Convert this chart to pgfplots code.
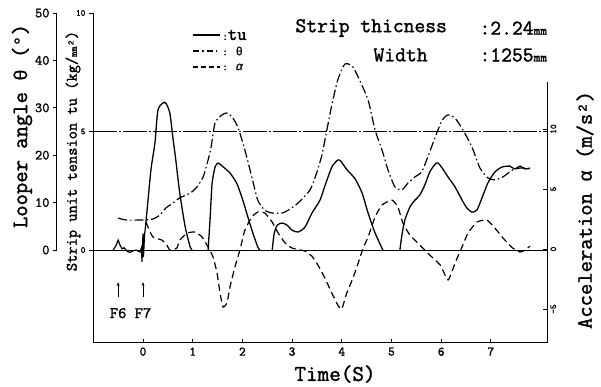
\documentclass[border=0pt]{standalone}
\usepackage{pgfplots}
\pgfplotsset{compat=1.18}
\usepackage{fontspec}
\setmainfont{Latin Modern Mono}[FakeBold=1.6]
\newfontfamily\gr{Liberation Mono}[FakeBold=0.8]
\usetikzlibrary{arrows.meta}
\newcommand\fs[1]{\fontsize{#1}{#1}\selectfont}
\pgfplotsset{
  common/.style={scale only axis, at={(0,0)}, anchor=south west, width=454pt,
    xmin=-1.006, xmax=8.13},
  tucurve/.style={black, line width=1.3pt, smooth, tension=0.4},
}
\begin{document}
\begin{tikzpicture}
\path[use as bounding box] (-93pt,-44pt) rectangle (508pt,343pt);

% ---------- theta data (hidden axes) ----------
\begin{axis}[common, height=330pt, ymin=-19.62, ymax=50, hide x axis, hide y axis]
\addplot[black, line width=1.2pt, smooth, tension=0.4,
  dash pattern=on 9pt off 3pt on 1.5pt off 3pt] coordinates {
(-0.50,6.75) (-0.34,6.33) (0,6.33) (0.20,6.54) (0.34,7.38) (0.46,8.86) (0.60,9.9)
(0.74,11.0) (0.95,12.0) (1.07,13.1) (1.21,15.4) (1.31,19.0) (1.37,21.7) (1.45,26.8)
(1.59,28.5) (1.69,28.9) (1.79,28.1) (1.91,25.9) (2.05,21.1) (2.19,15.4) (2.31,10.5)
(2.45,8.4) (2.60,7.8) (2.80,7.8) (2.92,8.4) (3.12,9.9) (3.36,12.66) (3.48,15.8)
(3.60,20.0) (3.70,25.3) (3.80,30.6) (3.92,35.9) (4.06,39.2) (4.21,38.8) (4.33,36.5)
(4.53,31.6) (4.67,25.3) (4.81,21.1) (4.93,16.9) (5.07,13.3) (5.21,12.7) (5.33,14.1)
(5.47,15.4) (5.61,16.5) (5.73,19.6) (5.88,23.8) (6.02,27.4) (6.14,28.5) (6.28,27.8)
(6.44,25.3) (6.62,21.7) (6.78,17.3) (6.94,15.2) (7.08,14.8) (7.24,15.4) (7.44,16.9)
(7.59,17.3) (7.79,17.1)};
\end{axis}

% ---------- theta scale ----------
\begin{axis}[scale only axis, at={(-36pt,93pt)}, anchor=south west, width=20pt, height=237pt,
  xmin=0, xmax=1, ymin=0, ymax=50, hide x axis, axis y line*=left,
  axis line style={-, line width=1pt}, ytick={0,10,20,30,40,50},
  yticklabels={0,10,20,30,40,50}, major tick length=4pt,
  tick style={black, line width=0.8pt}, ytick align=outside,
  yticklabel style={font=\fs{14}}]
\end{axis}

% ---------- alpha axis (right) ----------
\begin{axis}[common, height=261pt, ymin=-7.83, ymax=13.92, hide x axis,
  axis y line*=right, axis line style={-, line width=1pt},
  ytick={-5,0,5,10}, yticklabels={-5,0,5,10}, major tick length=4pt,
  tick style={black, line width=0.8pt}, ytick align=inside,
  yticklabel style={font=\fs{9}, rotate=90, anchor=north}]
\addplot[black, line width=1.2pt, smooth, tension=0.3, dash pattern=on 7pt off 4pt] coordinates {
(0.06,2.25) (0.10,1.83) (0.20,1.0) (0.38,0.75) (0.48,0.33) (0.54,-0.08) (0.68,0.08)
(0.74,0.75) (0.89,1.33) (1.05,1.42) (1.19,1.0) (1.31,0.17) (1.41,-0.67) (1.49,-2.0)
(1.55,-3.67) (1.61,-4.83) (1.69,-4.5) (1.75,-3.17) (1.85,-1.5) (1.95,-0.08) (2.05,1.58)
(2.19,2.67) (2.31,3.08) (2.45,3.0) (2.60,2.25) (2.72,1.33) (2.86,0.5) (3.0,0.08)
(3.26,-0.17) (3.40,-0.6) (3.52,-1.33) (3.66,-2.42) (3.80,-3.67) (3.92,-4.67) (4.00,-5.0)
(4.10,-3.67) (4.21,-2.58) (4.33,-1.17) (4.43,0.08) (4.53,1.0) (4.67,2.67) (4.81,3.67)
(5.01,4.08) (5.13,3.5) (5.23,2.17) (5.37,1.17) (5.51,0.58) (5.63,0.08) (5.77,-0.5)
(5.98,-1.33) (6.14,-2.58) (6.28,-1.17) (6.42,0.17) (6.54,1.33) (6.72,2.25) (6.92,2.42)
(7.08,1.75) (7.28,0.75) (7.44,0.08) (7.59,-0.25) (7.69,-0.08) (7.79,0.25)};
\end{axis}

% ---------- main axis (tu) ----------
\begin{axis}[common, height=330pt, ymin=-3.92, ymax=10,
  axis x line*=bottom, axis y line*=left, axis line style={-, line width=1pt},
  xtick={0,1,2,3,4,5,6,7}, xticklabels={0,1,2,3,4,5,6,7},
  ytick={0,5,10}, yticklabels={0,5,10},
  major tick length=4pt, tick style={black, line width=0.8pt},
  xtick align=inside, ytick align=outside,
  xticklabel style={font=\fs{13}, yshift=-1pt},
  yticklabel style={font=\fs{9}}]
\draw[line width=1pt] (axis cs:-1.006,0) -- (axis cs:8.13,0);
\draw[line width=0.7pt, dash pattern=on 24pt off 2pt on 2pt off 2pt] (axis cs:-1.006,5) -- (axis cs:8.13,5);
% jagged start
\addplot[black, line width=1.2pt] coordinates {
(-0.60,0) (-0.54,0.2) (-0.50,0.42) (-0.46,0.2) (-0.42,0.05) (-0.38,0.1) (-0.32,-0.05)
(-0.26,-0.1) (-0.20,-0.03) (-0.14,0) (-0.06,-0.08) (-0.03,0.1) (-0.02,-0.5) (0.0,0.7)
(0.01,-0.3) (0.03,0.6) (0.06,1.18)};
\addplot[tucurve] coordinates {
(0.06,1.18) (0.16,3.38) (0.24,4.51) (0.30,5.9) (0.40,6.2) (0.46,6.2) (0.54,5.78)
(0.60,4.77) (0.66,3.8) (0.74,2.4) (0.85,0.97) (0.95,0.13) (0.99,0)};
\addplot[tucurve] coordinates {
(1.31,0) (1.35,1.3) (1.39,2.8) (1.45,3.5) (1.51,3.67) (1.59,3.55) (1.75,3.25)
(1.89,2.8) (2.01,2.1) (2.11,1.4) (2.21,0.72) (2.31,0.13) (2.35,0)};
\addplot[tucurve] coordinates {
(2.60,0) (2.64,0.7) (2.70,1.05) (2.80,1.14) (2.90,1.05) (3.0,0.84) (3.12,0.76)
(3.26,0.97) (3.40,1.56) (3.56,2.1) (3.66,2.7) (3.80,3.5) (3.92,3.8) (3.98,3.75)
(4.10,3.4) (4.27,3.0) (4.41,2.4) (4.53,1.56) (4.67,0.72) (4.81,0.08) (4.83,0)};
\addplot[tucurve] coordinates {
(5.17,0) (5.21,0.63) (5.27,1.27) (5.37,1.81) (5.47,2.1) (5.57,2.32) (5.67,2.74)
(5.77,3.29) (5.88,3.63) (5.94,3.67) (6.02,3.46) (6.14,3.08) (6.28,2.66) (6.42,2.11)
(6.52,1.77) (6.62,1.6) (6.72,1.69) (6.82,2.19) (6.94,2.83) (7.08,3.29) (7.22,3.5)
(7.38,3.54) (7.48,3.42) (7.59,3.54) (7.69,3.42) (7.79,3.46)};
% F6 / F7 markers
\draw[-{Stealth[length=4pt,width=3pt]}, line width=0.8pt] (axis cs:-0.5,-1.98) -- (axis cs:-0.5,-1.35);
\draw[-{Stealth[length=4pt,width=3pt]}, line width=0.8pt] (axis cs:0,-1.98) -- (axis cs:0,-1.35);
\node[font=\fs{16}] at (axis cs:-0.5,-2.66) {F6};
\node[font=\fs{16}] at (axis cs:0,-2.66) {F7};
\end{axis}

% ---------- texts ----------
\node[font=\fs{22.5}] at (242pt,-31pt) {Time(S)};
\node[font=\fs{22}, rotate=90] at (-71pt,217pt) {Looper angle {\gr\fs{19}θ} ({\gr\fs{19}°})};
\node[font=\fs{16}, rotate=90] at (-20pt,192pt) {Strip unit tension tu (kg/{\fs{10}mm}{\gr\fs{12}²})};
\node[font=\fs{22}, rotate=90] at (492pt,133pt) {Acceleration {\gr\fs{19}α} (m/s{\gr\fs{19}²})};
\node[font=\fs{21}, anchor=west] at (199pt,315pt) {Strip thicness};
\node[font=\fs{21}, anchor=west] at (383pt,315pt) {:2.24{\fs{13}mm}};
\node[font=\fs{21}, anchor=west] at (277pt,288pt) {Width};
\node[font=\fs{21}, anchor=west] at (383pt,288pt) {:1255{\fs{13}mm}};
% legend
\draw[line width=1.2pt] (100pt,308pt) -- (127pt,308pt);
\draw[line width=1.2pt, dash pattern=on 6pt off 3pt on 1.5pt off 3pt] (100pt,292pt) -- (127pt,292pt);
\draw[line width=1.2pt, dash pattern=on 5pt off 3pt] (100pt,276pt) -- (127pt,276pt);
\node[anchor=west, inner sep=1pt] at (128pt,308pt) {\fs{11}:\fs{18}tu};
\node[anchor=west, inner sep=1pt] at (128pt,292pt) {\fs{11}: {\gr\fs{12}θ}};
\node[anchor=west, inner sep=1pt] at (128pt,276pt) {\fs{11}: {\gr\itshape\fs{12}α}};
\end{tikzpicture}
\end{document}
